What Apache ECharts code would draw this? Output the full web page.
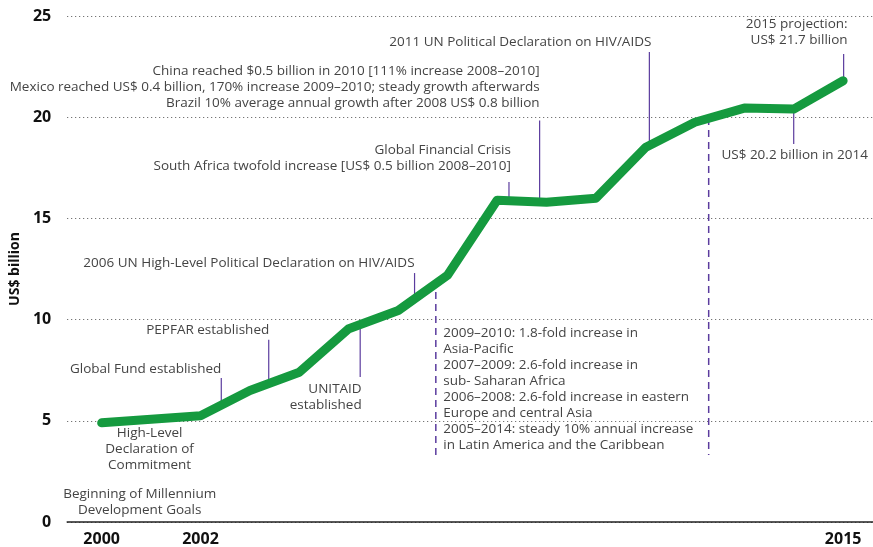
<!DOCTYPE html>
<html>
<head>
<meta charset="utf-8">
<script src="https://cdn.jsdelivr.net/npm/echarts@6/dist/echarts.min.js"></script>
<style>
  html, body { margin: 0; padding: 0; background: #fff; }
  #main { width: 873px; height: 547px; }
</style>
</head>
<body>
<div id="main"></div>
<script>
// spending on HIV, US$ billion
var years = [2000, 2002, 2003, 2004, 2005, 2006, 2007, 2008, 2009, 2010, 2011, 2012, 2013, 2014, 2015];
var spending = [4.9, 5.25, 6.5, 7.4, 9.55, 10.45, 12.2, 15.9, 15.8, 16.0, 18.5, 19.75, 20.45, 20.4, 21.8];
var yTicks = [0, 5, 10, 15, 20, 25];
var xLabels = [2000, 2002, 2015];

// leader lines: year, top value, bottom value, dashed?
var leaderX   = [2002.42, 2003.38, 2005.23, 2006.33, 2006.76, 2008.24, 2008.86, 2011.08, 2012.28, 2014.0, 2015.01];
var leaderTop = [7.11, 9.0, 9.63, 12.3, 11.96, 16.8, 19.84, 23.22, 19.96, 20.36, 23.12];
var leaderBot = [5.88, 6.87, 7.16, 11.07, 3.31, 15.91, 15.91, 18.53, 3.31, 18.68, 21.84];
var leaderDash = [0, 0, 0, 0, 1, 0, 0, 0, 1, 0, 0];

// annotation texts and where they hang (year, value of first line)
var noteText = [
  '2015 projection:\nUS$ 21.7 billion',
  '2011 UN Political Declaration on HIV/AIDS',
  'China reached $0.5 billion in 2010 [111% increase 2008\u20132010]\nMexico reached US$ 0.4 billion, 170% increase 2009\u20132010; steady growth afterwards\nBrazil 10% average annual growth after 2008 US$ 0.8 billion',
  'Global Financial Crisis\nSouth Africa twofold increase [US$ 0.5 billion 2008\u20132010]',
  '2006 UN High-Level Political Declaration on HIV/AIDS',
  'PEPFAR established',
  'Global Fund established',
  'UNITAID\nestablished',
  'High-Level\nDeclaration of\nCommitment',
  'Beginning of Millennium\nDevelopment Goals',
  '2009\u20132010: 1.8-fold increase in\nAsia-Pacific\n2007\u20132009: 2.6-fold increase in\nsub- Saharan Africa\n2006\u20132008: 2.6-fold increase in eastern\nEurope and central Asia\n2005\u20132014: steady 10% annual increase\nin Latin America and the Caribbean',
  'US$ 20.2 billion in 2014'
];
var noteX = [2015.09, 2011.12, 2008.86, 2008.28, 2006.33, 2003.39, 2002.42, 2005.26, 2000.97, 2000.77, 2006.91, 2014.02];
var noteY = [24.6, 23.72, 22.28, 18.38, 12.8, 9.49, 7.56, 6.57, 4.4, 1.38, 9.34, 18.13];
var noteAlign = ['right', 'right', 'right', 'right', 'right', 'right', 'right', 'right', 'center', 'center', 'left', 'center'];

var purple = '#5b3c9e';
var textFont = '13.5px "Open Sans"';

var chart = echarts.init(document.getElementById('main'));

var leaderData = [];
for (var i = 0; i < leaderX.length; i++) {
  leaderData.push([leaderX[i], leaderTop[i], leaderBot[i], leaderDash[i]]);
}
var noteData = [];
for (var j = 0; j < noteText.length; j++) {
  noteData.push([noteX[j], noteY[j], j]);
}
var lineData = [];
for (var k = 0; k < years.length; k++) {
  lineData.push([years[k], spending[k]]);
}

var option = {
  animation: false,
  grid: { left: 63, right: 0, top: 16, bottom: 25 },
  xAxis: {
    type: 'value',
    min: 1999.303,
    max: 2015.604,
    axisLine: { show: true, onZero: true, lineStyle: { color: '#222', width: 1.5 } },
    axisTick: { show: false },
    splitLine: { show: false },
    axisLabel: {
      customValues: xLabels,
      margin: 9,
      color: '#111',
      fontWeight: 'bold',
      fontSize: 16,
      fontFamily: 'Open Sans',
      formatter: function (v) { return String(v); }
    }
  },
  yAxis: {
    type: 'value',
    min: 0,
    max: 25,
    interval: 5,
    name: 'US$ billion',
    nameLocation: 'middle',
    nameGap: 33,
    nameTextStyle: { color: '#111', fontWeight: 'bold', fontSize: 14, fontFamily: 'Open Sans' },
    axisLine: { show: false },
    axisTick: { show: false },
    axisLabel: { color: '#111', fontWeight: 'bold', fontSize: 16, fontFamily: 'Open Sans', margin: 16 },
    splitLine: { lineStyle: { color: '#555', type: [1, 3], width: 1 } }
  },
  series: [
    {
      type: 'custom',
      z: 1,
      silent: true,
      data: leaderData,
      renderItem: function (params, api) {
        var a = api.coord([api.value(0), api.value(1)]);
        var b = api.coord([api.value(0), api.value(2)]);
        return {
          type: 'line',
          shape: { x1: a[0], y1: a[1], x2: b[0], y2: b[1] },
          style: {
            stroke: purple,
            lineWidth: api.value(3) ? 1.5 : 1.2,
            lineDash: api.value(3) ? [7, 5] : null
          }
        };
      }
    },
    {
      type: 'line',
      z: 3,
      data: lineData,
      symbol: 'none',
      lineStyle: { color: '#159a3f', width: 9, cap: 'round', join: 'round' }
    },
    {
      type: 'custom',
      z: 4,
      silent: true,
      data: noteData,
      renderItem: function (params, api) {
        var p = api.coord([api.value(0), api.value(1)]);
        var idx = api.value(2);
        return {
          type: 'text',
          x: p[0],
          y: p[1] - 8,
          style: {
            text: noteText[idx],
            align: noteAlign[idx],
            verticalAlign: 'top',
            font: textFont,
            lineHeight: 16,
            fill: '#444'
          }
        };
      }
    }
  ]
};

chart.setOption(option);
window.addEventListener('resize', function () { chart.resize(); });
</script>
</body>
</html>
